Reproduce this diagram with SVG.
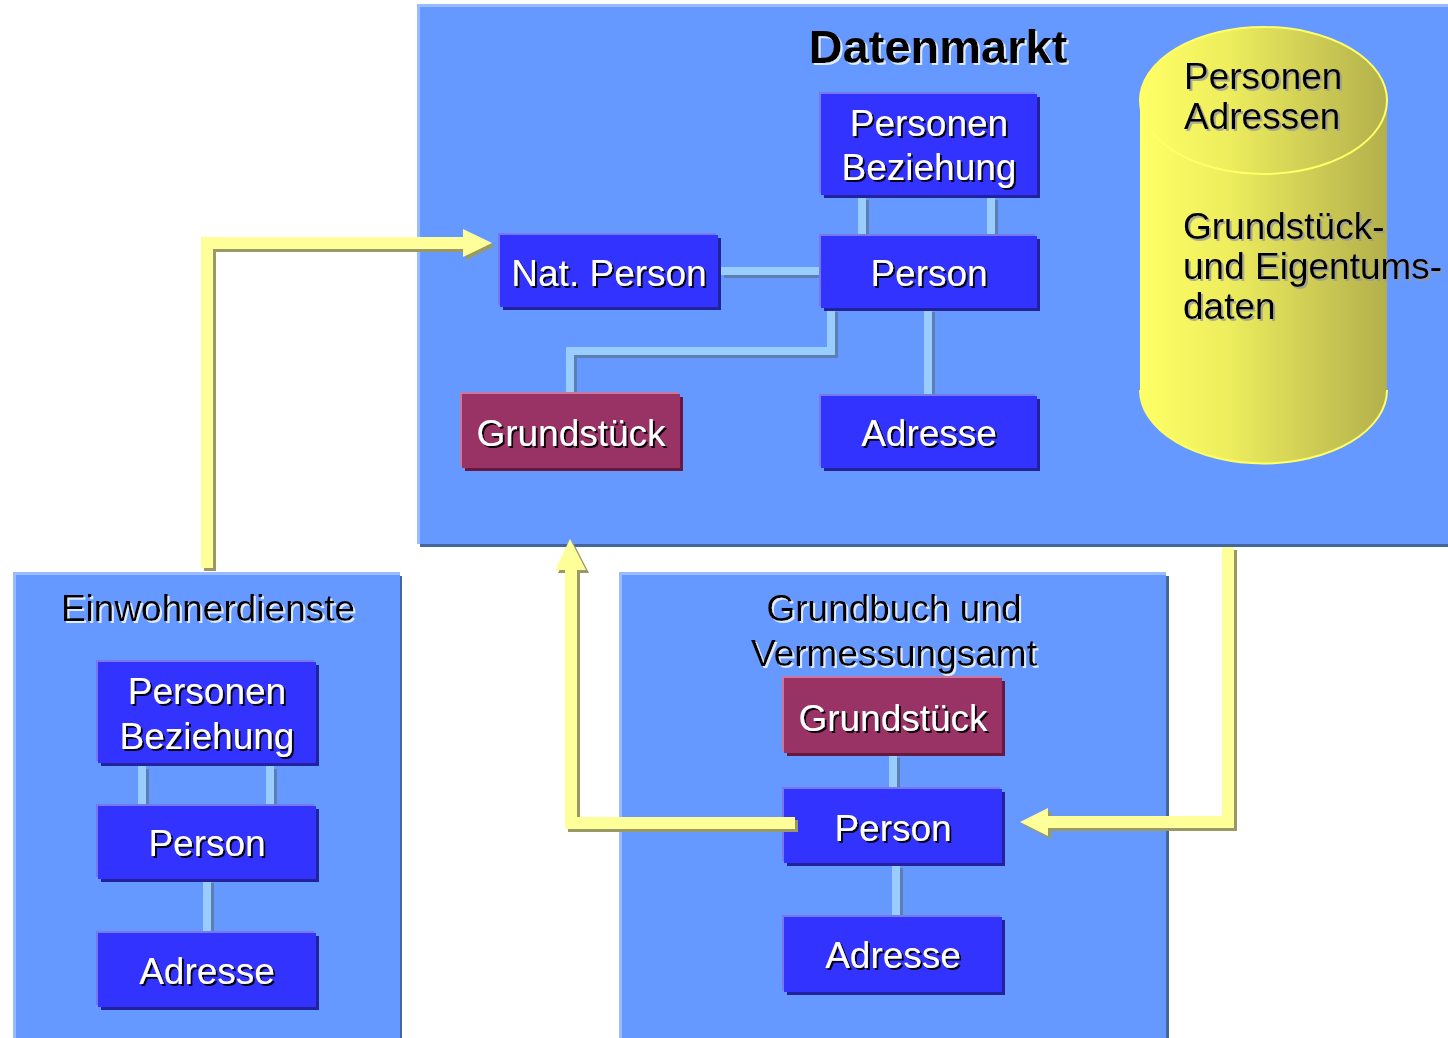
<svg xmlns="http://www.w3.org/2000/svg" width="1448" height="1038" viewBox="0 0 1448 1038">
<defs>
<style>
.t{font-family:"Liberation Sans",Arial,sans-serif;font-size:37px;text-anchor:middle}
.w{fill:#ffffff;filter:url(#dsh)}
.k{fill:#000000;filter:url(#lsh)}
.cl{fill:#6699ff}
.chl{fill:#99bbff}
.csh{fill:#446699}
.bb{fill:#3333ff}
.bhl{fill:#7777ee}
.bsh{fill:#22229a}
.gb{fill:#993366}
.ghl{fill:#cc7799}
.gsh{fill:#661940}
.con{fill:none;stroke:#99ccff;stroke-width:8;stroke-linejoin:miter}
.consh{fill:none;stroke:#5a7fb0;stroke-width:8;stroke-linejoin:miter}
.arr{fill:#ffff99}
.arrsh{fill:#999966}
</style>
<filter id="dsh" x="-10%" y="-20%" width="120%" height="140%">
<feDropShadow dx="2" dy="2" stdDeviation="0.3" flood-color="#000000" flood-opacity="0.9"/>
</filter>
<filter id="lsh" x="-10%" y="-20%" width="120%" height="140%">
<feDropShadow dx="2" dy="2" stdDeviation="0.3" flood-color="#ffffff" flood-opacity="0.8"/>
</filter>
<filter id="gsh" x="-10%" y="-20%" width="120%" height="140%">
<feDropShadow dx="2" dy="2" stdDeviation="0.3" flood-color="#999999" flood-opacity="0.8"/>
</filter>
<linearGradient id="cyl" x1="0" y1="0" x2="1" y2="0">
<stop offset="0" stop-color="#ffff66"/>
<stop offset="0.35" stop-color="#eeee5e"/>
<stop offset="1" stop-color="#b3b04c"/>
</linearGradient>
</defs>
<rect width="1448" height="1038" fill="#ffffff"/>

<g id="datenmarkt">
<rect class="csh" x="420" y="7" width="1030" height="540"/>
<rect class="chl" x="417" y="4" width="1031" height="540"/>
<rect class="cl" x="420" y="7" width="1028" height="537"/>
<text class="t k" x="938" y="63" style="font-weight:bold;font-size:47px">Datenmarkt</text>
</g>

<g id="einwohnerdienste">
<rect class="csh" x="16" y="576" width="386" height="470"/>
<rect class="chl" x="13" y="572" width="387" height="470"/>
<rect class="cl" x="16" y="575" width="384" height="470"/>
<text class="t k" x="208" y="621">Einwohnerdienste</text>
</g>

<g id="grundbuch">
<rect class="csh" x="622" y="576" width="547" height="470"/>
<rect class="chl" x="619" y="572" width="547" height="470"/>
<rect class="cl" x="622" y="575" width="544" height="470"/>
<text class="t k" x="894" y="621">Grundbuch und</text>
<text class="t k" x="894" y="666">Vermessungsamt</text>
</g>

<g id="connectors">
<g transform="translate(3,3)">
<path class="consh" d="M862,197V233"/>
<path class="consh" d="M991,197V233"/>
<path class="consh" d="M721,271H818"/>
<path class="consh" d="M831,309V351H570V391"/>
<path class="consh" d="M928,309V393"/>
<path class="consh" d="M142,766V803"/>
<path class="consh" d="M270,766V803"/>
<path class="consh" d="M207,880V930"/>
<path class="consh" d="M893,755V786"/>
<path class="consh" d="M896,865V914"/>
</g>
<path class="con" d="M862,197V236"/>
<path class="con" d="M991,197V236"/>
<path class="con" d="M721,271H821"/>
<path class="con" d="M831,309V351H570V394"/>
<path class="con" d="M928,309V396"/>
<path class="con" d="M142,766V806"/>
<path class="con" d="M270,766V806"/>
<path class="con" d="M207,880V933"/>
<path class="con" d="M893,755V789"/>
<path class="con" d="M896,865V917"/>
</g>

<g id="dm-personen-beziehung">
<rect class="bsh" x="824" y="97" width="216" height="101"/>
<rect class="bhl" x="819" y="92" width="216" height="101"/>
<rect class="bb" x="821" y="94" width="216" height="101"/>
<text class="t w" x="929" y="136">Personen</text>
<text class="t w" x="929" y="180">Beziehung</text>
</g>
<g id="dm-person">
<rect class="bsh" x="824" y="239" width="216" height="72"/>
<rect class="bhl" x="819" y="234" width="216" height="72"/>
<rect class="bb" x="821" y="236" width="216" height="72"/>
<text class="t w" x="929" y="286">Person</text>
</g>
<g id="dm-nat-person">
<rect class="bsh" x="503" y="238" width="218" height="72"/>
<rect class="bhl" x="498" y="233" width="218" height="72"/>
<rect class="bb" x="500" y="235" width="218" height="72"/>
<text class="t w" x="609" y="286">Nat. Person</text>
</g>
<g id="dm-grundstueck">
<rect class="gsh" x="465" y="397" width="218" height="74"/>
<rect class="ghl" x="460" y="392" width="218" height="74"/>
<rect class="gb" x="462" y="394" width="218" height="74"/>
<text class="t w" x="571" y="446">Grundstück</text>
</g>
<g id="dm-adresse">
<rect class="bsh" x="824" y="399" width="216" height="72"/>
<rect class="bhl" x="819" y="394" width="216" height="72"/>
<rect class="bb" x="821" y="396" width="216" height="72"/>
<text class="t w" x="929" y="446">Adresse</text>
</g>

<g id="datenbank">
<path d="M1140,100V390A123.5,73.5 0 0 0 1387,390V100Z" fill="url(#cyl)"/>
<path d="M1140,390A123.5,73.5 0 0 0 1387,390" fill="none" stroke="#ffff66" stroke-width="2"/>
<ellipse cx="1263.5" cy="100.5" rx="123.5" ry="73.5" fill="url(#cyl)" stroke="#ffff66" stroke-width="2"/>
<text style="font-family:'Liberation Sans',Arial,sans-serif;font-size:37px;filter:url(#gsh)" fill="#000000">
<tspan x="1184" y="89">Personen</tspan>
<tspan x="1184" y="129">Adressen</tspan>
<tspan x="1183" y="239">Grundstück-</tspan>
<tspan x="1183" y="279">und Eigentums-</tspan>
<tspan x="1183" y="319">daten</tspan>
</text>
</g>

<g id="ew-personen-beziehung">
<rect class="bsh" x="101" y="665" width="218" height="101"/>
<rect class="bhl" x="96" y="660" width="218" height="101"/>
<rect class="bb" x="98" y="662" width="218" height="101"/>
<text class="t w" x="207" y="704">Personen</text>
<text class="t w" x="207" y="749">Beziehung</text>
</g>
<g id="ew-person">
<rect class="bsh" x="101" y="809" width="218" height="73"/>
<rect class="bhl" x="96" y="804" width="218" height="73"/>
<rect class="bb" x="98" y="806" width="218" height="73"/>
<text class="t w" x="207" y="856">Person</text>
</g>
<g id="ew-adresse">
<rect class="bsh" x="101" y="936" width="218" height="74"/>
<rect class="bhl" x="96" y="931" width="218" height="74"/>
<rect class="bb" x="98" y="933" width="218" height="74"/>
<text class="t w" x="207" y="984">Adresse</text>
</g>

<g id="gb-grundstueck">
<rect class="gsh" x="787" y="681" width="218" height="75"/>
<rect class="ghl" x="782" y="676" width="218" height="75"/>
<rect class="gb" x="784" y="678" width="218" height="75"/>
<text class="t w" x="893" y="731">Grundstück</text>
</g>
<g id="gb-person">
<rect class="bsh" x="787" y="792" width="218" height="74"/>
<rect class="bhl" x="782" y="787" width="218" height="74"/>
<rect class="bb" x="784" y="789" width="218" height="74"/>
<text class="t w" x="893" y="841">Person</text>
</g>
<g id="gb-adresse">
<rect class="bsh" x="787" y="920" width="218" height="75"/>
<rect class="bhl" x="782" y="915" width="218" height="75"/>
<rect class="bb" x="784" y="917" width="218" height="75"/>
<text class="t w" x="893" y="968">Adresse</text>
</g>

<g id="arrows">
<g transform="translate(3,3)">
<path class="arrsh" d="M201,568V237H463V229L492,243L463,257V249H213V568Z"/>
<path class="arrsh" d="M795,817H577V570H586L570,539L555,570H565V829H795Z"/>
<path class="arrsh" d="M1222,547H1234V828H1048V836L1020,822L1048,808V816H1222Z"/>
</g>
<path class="arr" d="M201,568V237H463V229L492,243L463,257V249H213V568Z"/>
<path class="arr" d="M795,817H577V570H586L570,539L555,570H565V829H795Z"/>
<path class="arr" d="M1222,547H1234V828H1048V836L1020,822L1048,808V816H1222Z"/>
</g>
</svg>
